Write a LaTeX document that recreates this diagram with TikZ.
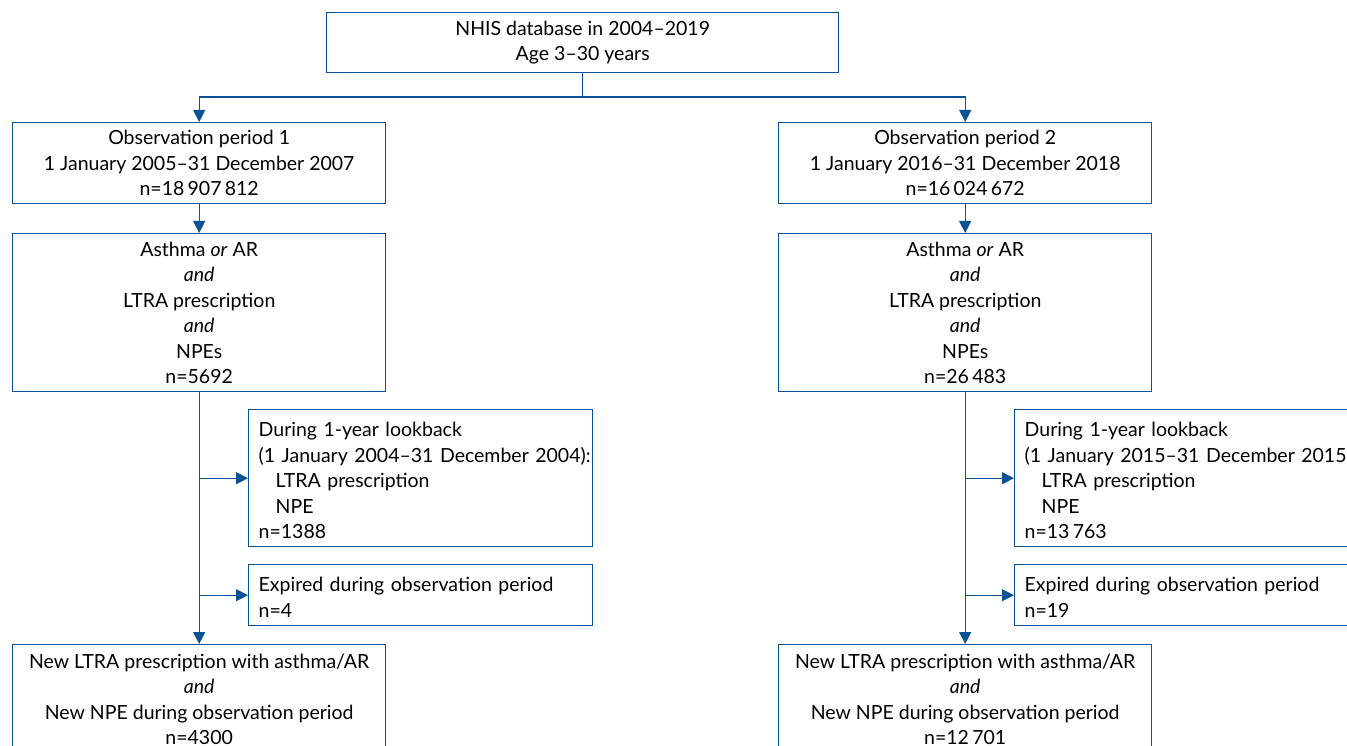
\documentclass[tikz,border=0pt]{standalone}
\usepackage{fontspec}
\setmainfont{Lato}
\usetikzlibrary{arrows.meta}
\definecolor{fblue}{HTML}{0A5296}
\begin{document}
\begin{tikzpicture}[x=1pt,y=-1pt,
  box/.style={draw=fblue, line width=1.4pt, inner sep=0pt, align=center,
    font=\fontsize{19.5}{25.5}\selectfont, anchor=north west,
    execute at begin node={\rule{0pt}{19pt}}},
  sidebox/.style={box, align=left, text width=324pt, inner xsep=10pt},
  link/.style={draw=fblue, line width=1.4pt},
  arr/.style={link, -{Triangle[length=12pt,width=12pt]}}]
\clip (0,0) rectangle (1347,746);

\node[box, minimum width=512, minimum height=60] (top) at (326,12)
  {NHIS database in 2004–2019\\Age 3–30 years};

% left column
\node[box, minimum width=373, minimum height=81] (obs1) at (12,122)
  {Observation period 1\\1 January 2005–31 December 2007\\n=18\,907\,812};
\node[box, minimum width=373, minimum height=158] (ast1) at (12,233)
  {Asthma \textit{or} AR\\\textit{and}\\LTRA prescription\\\textit{and}\\NPEs\\n=5692};
\node[sidebox, minimum height=137] (look1) at (248,409)
  {During 1-year lookback\\\mbox{(1 January 2004–31 December 2004):}\\\hspace*{17pt}LTRA prescription\\\hspace*{17pt}NPE\\n=1388};
\node[sidebox, minimum height=61] (exp1) at (248,564)
  {Expired during observation period\\n=4};
\node[box, minimum width=373, minimum height=109] (new1) at (12,644)
  {New LTRA prescription with asthma/AR\\\textit{and}\\New NPE during observation period\\n=4300};

% right column
\node[box, minimum width=373, minimum height=81] (obs2) at (778,122)
  {Observation period 2\\1 January 2016–31 December 2018\\n=16\,024\,672};
\node[box, minimum width=373, minimum height=158] (ast2) at (778,233)
  {Asthma \textit{or} AR\\\textit{and}\\LTRA prescription\\\textit{and}\\NPEs\\n=26\,483};
\node[sidebox, minimum height=137] (look2) at (1014,409)
  {During 1-year lookback\\\mbox{(1 January 2015–31 December 2015):}\\\hspace*{17pt}LTRA prescription\\\hspace*{17pt}NPE\\n=13\,763};
\node[sidebox, minimum height=61] (exp2) at (1014,564)
  {Expired during observation period\\n=19};
\node[box, minimum width=373, minimum height=109] (new2) at (778,644)
  {New LTRA prescription with asthma/AR\\\textit{and}\\New NPE during observation period\\n=12\,701};

% connectors
\coordinate (split) at (582,97);
\draw[link] (top.south) -- (top.south |- split);
\draw[arr] (top.south |- split) -| (obs1.north);
\draw[arr] (top.south |- split) -| (obs2.north);

\draw[arr] (obs1) -- (ast1);
\draw[arr] (ast1) -- (new1);
\draw[arr] (ast1.south |- look1.west) -- (look1.west);
\draw[arr] (ast1.south |- exp1.west) -- (exp1.west);

\draw[arr] (obs2) -- (ast2);
\draw[arr] (ast2) -- (new2);
\draw[arr] (ast2.south |- look2.west) -- (look2.west);
\draw[arr] (ast2.south |- exp2.west) -- (exp2.west);
\end{tikzpicture}
\end{document}
